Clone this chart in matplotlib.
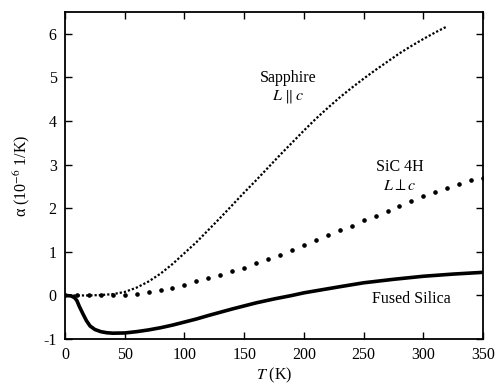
import matplotlib
matplotlib.use("Agg")
import matplotlib.pyplot as plt

plt.rcParams["font.family"] = ["Liberation Serif", "DejaVu Serif"]
plt.rcParams["mathtext.fontset"] = "stix"
plt.rcParams["axes.unicode_minus"] = False

# Sapphire, L || c
sapphire_T = [0, 10, 20, 30, 40, 50, 60, 70, 80, 90, 100, 110, 120, 130, 140, 150,
              160, 170, 180, 190, 200, 210, 220, 230, 240, 250, 260, 270, 280, 290,
              300, 310, 320]
sapphire_a = [0.0, 0.0, 0.0, 0.01, 0.03, 0.08, 0.18, 0.32, 0.5, 0.72, 0.97, 1.22,
              1.5, 1.78, 2.07, 2.36, 2.64, 2.93, 3.22, 3.5, 3.78, 4.05, 4.3, 4.54,
              4.76, 4.97, 5.17, 5.36, 5.55, 5.72, 5.88, 6.03, 6.17]

# SiC 4H, L perp c
sic_T = [0, 10, 20, 30, 40, 50, 60, 70, 80, 90, 100, 110, 120, 130, 140, 150, 160,
         170, 180, 190, 200, 210, 220, 230, 240, 250, 260, 270, 280, 290, 300, 310,
         320, 330, 340, 350]
sic_a = [0.0, 0.0, 0.0, 0.0, 0.0, 0.02, 0.04, 0.07, 0.12, 0.17, 0.24, 0.32, 0.4,
         0.47, 0.55, 0.64, 0.74, 0.83, 0.93, 1.04, 1.16, 1.27, 1.38, 1.49, 1.6, 1.72,
         1.83, 1.94, 2.05, 2.16, 2.27, 2.37, 2.47, 2.56, 2.64, 2.7]

# Fused silica
silica_T = [0, 5, 8, 10, 12, 15, 18, 21, 25, 30, 35, 40, 50, 60, 70, 80, 90, 100,
            110, 120, 130, 140, 150, 160, 175, 190, 200, 215, 230, 250, 275, 300,
            325, 350]
silica_a = [0.0, -0.01, -0.05, -0.12, -0.25, -0.42, -0.58, -0.7, -0.78, -0.83,
            -0.855, -0.865, -0.86, -0.83, -0.79, -0.74, -0.68, -0.61, -0.54, -0.46,
            -0.385, -0.31, -0.24, -0.17, -0.08, 0.0, 0.06, 0.13, 0.2, 0.29, 0.37,
            0.44, 0.49, 0.53]

fig = plt.figure(figsize=(4.96, 3.84), dpi=100)
ax = fig.add_axes([0.131, 0.117, 0.843, 0.852])

ax.plot(sapphire_T, sapphire_a, color="black", linestyle=(0, (1, 0.9)), linewidth=1.6)
ax.plot(sic_T, sic_a, "o", color="black", markersize=2.3, linestyle="none")
ax.plot(silica_T, silica_a, color="black", linewidth=2.6)

fs = 11.5
ax.text(187, 4.98, "Sapphire", ha="center", va="center", fontsize=fs)
ax.text(187, 4.56, r"$L\;\|\;c$", ha="center", va="center", fontsize=fs)
ax.text(280, 2.94, "SiC 4H", ha="center", va="center", fontsize=fs)
ax.text(280, 2.5, r"$L\perp c$", ha="center", va="center", fontsize=fs)
ax.text(290, -0.07, "Fused Silica", ha="center", va="center", fontsize=fs)

ax.set_xlim(0, 350)
ax.set_ylim(-1, 6.5)
ax.set_xticks([0, 50, 100, 150, 200, 250, 300, 350])
ax.set_yticks([-1, 0, 1, 2, 3, 4, 5, 6])
ax.tick_params(direction="in", top=True, right=True, length=5, width=1,
               labelsize=fs, pad=6)
for s in ax.spines.values():
    s.set_linewidth(1.3)

ax.set_xlabel(r"$T$ (K)", fontsize=fs, labelpad=2)
ax.set_ylabel(r"α (10$^{-6}$ 1/K)", fontsize=fs, labelpad=8)

fig.savefig("out.png", dpi=100)
